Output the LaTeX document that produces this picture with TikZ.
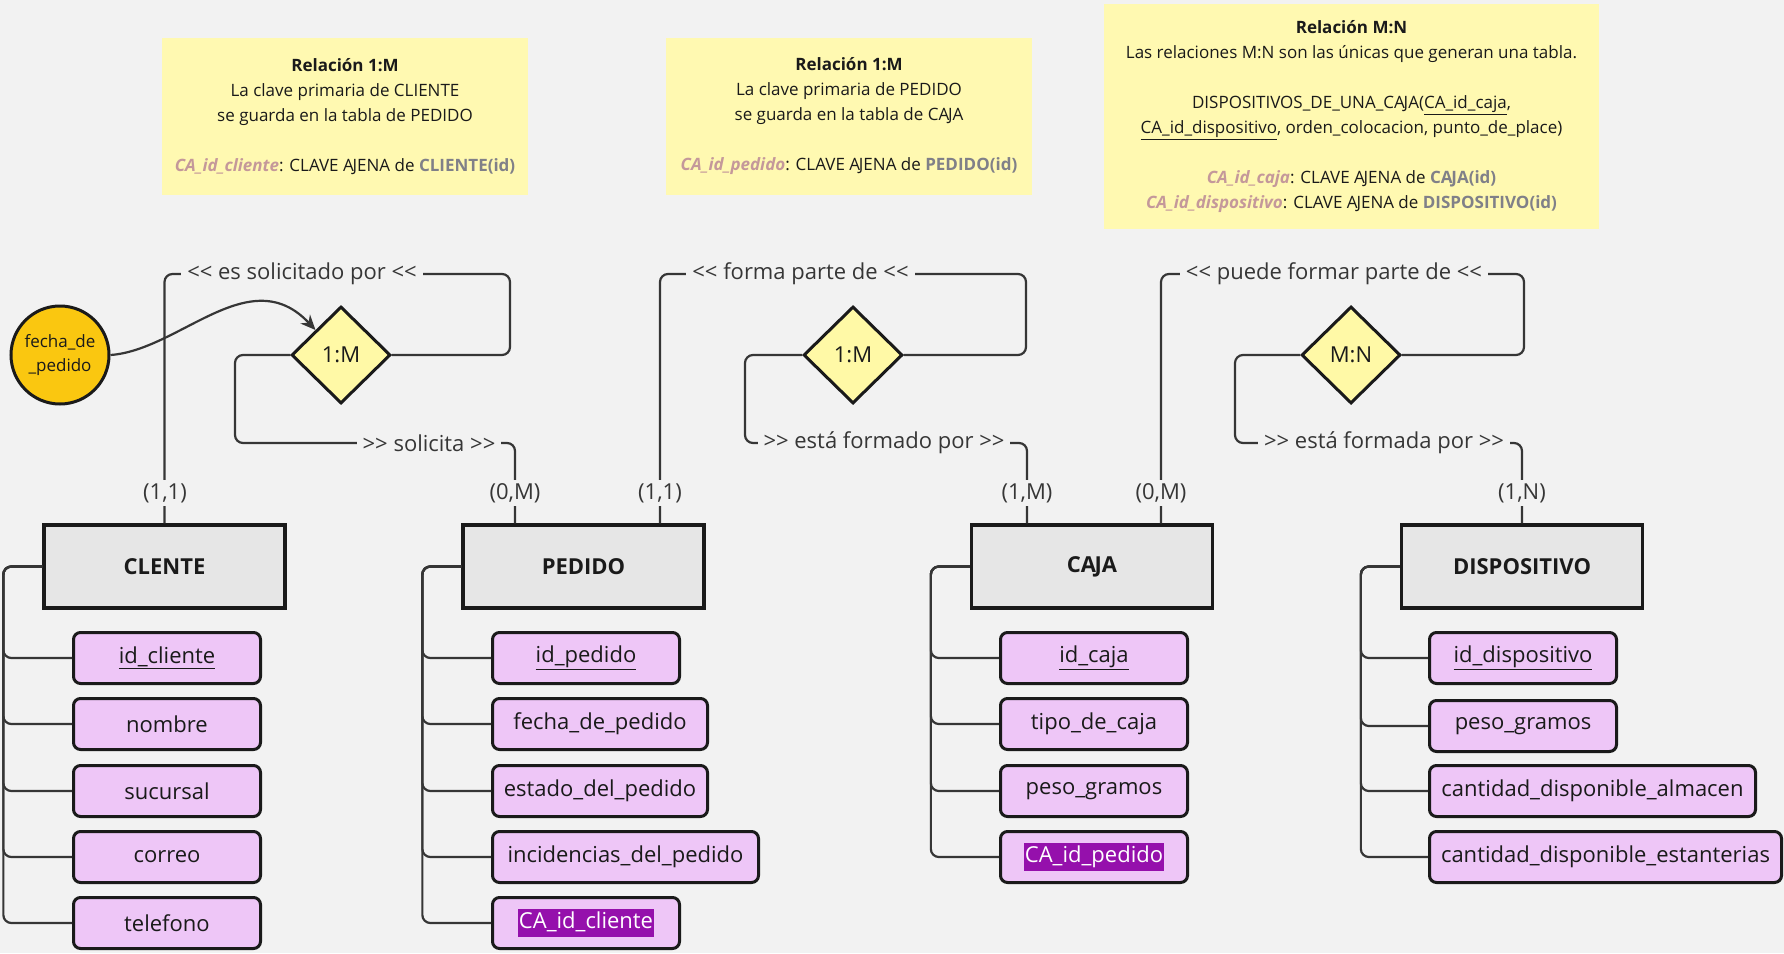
\documentclass[tikz,border=0pt]{standalone}
\usepackage{fontspec}
\setmainfont{Open Sans}[Ligatures=TeXOff]
\usetikzlibrary{shapes.geometric,arrows.meta,calc}

\definecolor{bgcol}{HTML}{F2F2F2}
\definecolor{notecol}{HTML}{FFF9B1}
\definecolor{relcol}{HTML}{FFF9A6}
\definecolor{entcol}{HTML}{E6E6E6}
\definecolor{attrcol}{HTML}{EEC6F7}
\definecolor{hlcol}{HTML}{9510AC}
\definecolor{circcol}{HTML}{FAC710}
\definecolor{linecol}{HTML}{363636}
\definecolor{edgecol}{HTML}{1A1A1A}
\definecolor{fkcol}{HTML}{C4989A}
\definecolor{refcol}{HTML}{808088}

\newcommand\fsz[2]{\fontsize{#1}{#2}\selectfont}
\newcommand\fkey[1]{\textcolor{fkcol}{\bfseries\itshape #1}}
\newcommand\reft[1]{\textcolor{refcol}{\bfseries #1}}
\newcommand\hlt[1]{{\setlength\fboxsep{1pt}\colorbox{hlcol}{\strut\color{white}#1}}}
\newcommand\kAJ{A\kern-0.07em J}

\tikzset{
  entbox/.style={draw=edgecol, line width=3.3pt, fill=entcol, minimum width=241pt,
    minimum height=83pt, font=\fsz{22}{26}\bfseries, text=edgecol},
  attrbox/.style={draw=edgecol, line width=3pt, rounded corners=7pt, fill=attrcol,
    anchor=west, minimum width=#1, minimum height=51pt, inner xsep=3pt,
    font=\fsz{22}{26}, text=edgecol},
  attrbox/.default=187pt,
  relbox/.style={diamond, draw=edgecol, line width=3pt, fill=relcol, minimum width=99pt,
    minimum height=97pt, inner sep=0pt, font=\fsz{22}{26}, text=edgecol},
  notebox/.style={fill=notecol, align=center, font=\fsz{17}{25}, text=edgecol},
  conn/.style={draw=linecol, line width=2.2pt, rounded corners=8pt},
  rlabel/.style={fill=bgcol, text=linecol, inner xsep=6pt, inner ysep=2pt, font=\fsz{22}{26}},
  cardlbl/.style={fill=bgcol, text=linecol, inner xsep=2pt, inner ysep=3pt, font=\fsz{22}{26}},
}

\begin{document}
\begin{tikzpicture}[x=1pt, y=-1pt]
  \fill[bgcol] (0,0) rectangle (1784,953);
  \useasboundingbox (0,0) rectangle (1784,953);

  % notas
  \node[notebox, minimum width=366pt, minimum height=157pt] (nota1) at (345,116.5)
    {\textbf{Relación 1:M}\\ La clave primaria de CLIENTE\\ se guarda en la tabla de PEDIDO\\[25pt]
     \fkey{CA\_id\_cliente}: CLAVE \kAJ ENA de \reft{CLIENTE(id)}};
  \node[notebox, minimum width=366pt, minimum height=157pt] (nota2) at (849,116.5)
    {\textbf{Relación 1:M}\\ La clave primaria de PEDIDO\\ se guarda en la tabla de C\kAJ A\\[25pt]
     \fkey{CA\_id\_pedido}: CLAVE \kAJ ENA de \reft{PEDIDO(id)}};
  \node[notebox, minimum width=495pt, minimum height=225pt] (nota3) at (1351.5,116.5)
    {\textbf{Relación M:N}\\ Las relaciones M:N son las únicas que generan una tabla.\\[25pt]
     DISPOSITIVOS\_DE\_UNA\_C\kAJ A(\underline{CA\_id\_caja},\\
     \underline{CA\_id\_dispositivo}, orden\_colocacion, punto\_de\_place)\\[25pt]
     \fkey{CA\_id\_caja}: CLAVE \kAJ ENA de \reft{C\kAJ A(id)}\\
     \fkey{CA\_id\_dispositivo}: CLAVE \kAJ ENA de \reft{DISPOSITIVO(id)}};

  % entidades
  \node[entbox] (clente) at (164.5,566.5) {CLENTE};
  \node[entbox] (pedido) at (583.5,566.5) {PEDIDO};
  \node[entbox] (caja) at (1092,566.5) {C\kAJ A};
  \node[entbox] (disp) at (1522,566.5) {DISPOSITIVO};

  % relaciones
  \node[relbox] (d1) at (341,355) {1:M};
  \node[relbox] (d2) at (853,355) {1:M};
  \node[relbox] (d3) at (1351,355) {M:N};

  % atributo de la relacion
  \node[circle, draw=edgecol, line width=3pt, fill=circcol, minimum size=98pt, inner sep=0pt,
    align=center, font=\fsz{17}{24}, text=edgecol] (fecha) at (60,355) {fecha\_de\\\_pedido};
  \draw[conn, -{Stealth[length=15pt, width=13pt]}] (fecha.east)
    .. controls (180,350) and (250,260) .. (d1.north west);

  % CLIENTE - PEDIDO
  \draw[conn] (clente.north) |- (510,274) |- (d1.east);
  \node[rlabel] (l1a) at (302,274) {<< es solicitado por <<};
  \node[cardlbl] (c1a) at (165,493) {(1,1)};
  \draw[conn] (d1.west) -| (235,443) -| ($(pedido.north)+(-68.5,0)$);
  \node[rlabel] (l1b) at (429,443) {>> solicita >>};
  \node[cardlbl] (c1b) at (515,493) {(0,M)};

  % PEDIDO - CAJA
  \draw[conn] ($(pedido.north)+(76.5,0)$) |- (1026,274) |- (d2.east);
  \node[rlabel] (l2a) at (800.5,274) {<< forma parte de <<};
  \node[cardlbl] (c2a) at (660,493) {(1,1)};
  \draw[conn] (d2.west) -| (745,443) -| ($(caja.north)+(-65,0)$);
  \node[rlabel] (l2b) at (884,443) {>> está formado por >>};
  \node[cardlbl] (c2b) at (1027,493) {(1,M)};

  % CAJA - DISPOSITIVO
  \draw[conn] ($(caja.north)+(69,0)$) |- (1524,274) |- (d3.east);
  \node[rlabel] (l3a) at (1334,274) {<< puede formar parte de <<};
  \node[cardlbl] (c3a) at (1161,493) {(0,M)};
  \draw[conn] (d3.west) -| (1235,443) -| (disp.north);
  \node[rlabel] (l3b) at (1384,443) {>> está formada por >>};
  \node[cardlbl] (c3b) at (1522,493) {(1,N)};

  % atributos CLIENTE
  \node[attrbox] (cl1) at (72,658) {\underline{id\_cliente}};
  \node[attrbox] (cl2) at (72,724) {nombre};
  \node[attrbox] (cl3) at (72,791) {sucursal};
  \node[attrbox] (cl4) at (72,857) {correo};
  \node[attrbox] (cl5) at (72,923) {telefono};
  \foreach \a in {cl1,cl2,cl3,cl4,cl5}
    \draw[conn] (clente.west) -- ++(-39,0) |- (\a.west);

  % atributos PEDIDO
  \node[attrbox] (pe1) at (491,658) {\underline{id\_pedido}};
  \node[attrbox=215pt] (pe2) at (491,724) {fecha\_de\_pedido};
  \node[attrbox=215pt] (pe3) at (491,791) {estado\_del\_pedido};
  \node[attrbox=266pt] (pe4) at (491,857) {incidencias\_del\_pedido};
  \node[attrbox] (pe5) at (491,923) {\hlt{CA\_id\_cliente}};
  \foreach \a in {pe1,pe2,pe3,pe4,pe5}
    \draw[conn] (pedido.west) -- ++(-39,0) |- (\a.west);

  % atributos CAJA
  \node[attrbox] (ca1) at (999,658) {\underline{id\_caja}};
  \node[attrbox] (ca2) at (999,724) {tipo\_de\_caja};
  \node[attrbox] (ca3) at (999,791) {peso\_gramos};
  \node[attrbox] (ca4) at (999,857) {\hlt{CA\_id\_pedido}};
  \foreach \a in {ca1,ca2,ca3,ca4}
    \draw[conn] (caja.west) -- ++(-39,0) |- (\a.west);

  % atributos DISPOSITIVO
  \node[attrbox] (di1) at (1428,658) {\underline{id\_dispositivo}};
  \node[attrbox] (di2) at (1428,726) {peso\_gramos};
  \node[attrbox=326pt] (di3) at (1428,791) {cantidad\_disponible\_almacen};
  \node[attrbox=352pt] (di4) at (1428,857) {cantidad\_disponible\_estanterias};
  \foreach \a in {di1,di2,di3,di4}
    \draw[conn] (disp.west) -- ++(-39,0) |- (\a.west);
\end{tikzpicture}
\end{document}
